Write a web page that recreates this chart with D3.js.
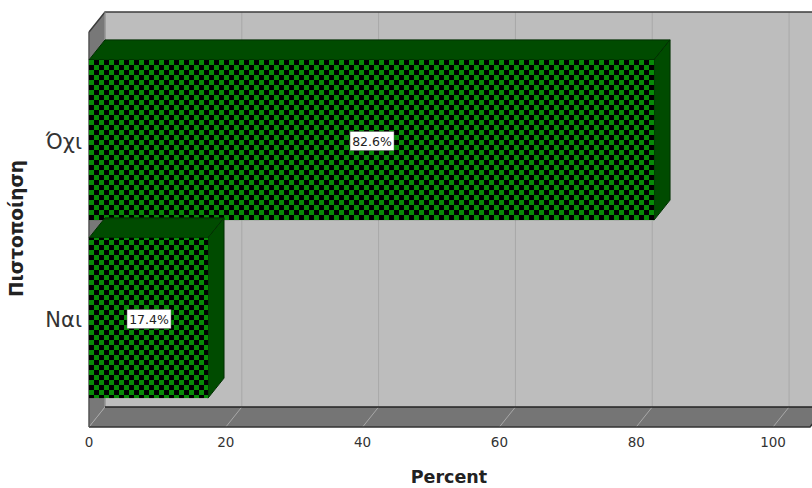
<!DOCTYPE html>
<html>
<head>
<meta charset="utf-8">
<script src="https://d3js.org/d3.v7.min.js"></script>
<style>
  html, body { margin: 0; padding: 0; background: #fff; overflow: hidden; }
  text { font-family: "DejaVu Sans", sans-serif; }
</style>
</head>
<body>
<script>
// chart values
const categories = ["Όχι", "Ναι"];
const percents = [82.6, 17.4];
const labels = ["82.6%", "17.4%"];
const xTicks = [0, 20, 40, 60, 80, 100];

const width = 812, height = 488;
const depthX = 16, depthY = -20; // offset of the fake 3d depth

const x = d3.scaleLinear().domain([0, 105.4]).range([89, 810]);
const y = d3.scaleBand().domain(categories).range([51, 407])
    .paddingInner(0.1).paddingOuter(0.05);

const plotTop = 32, plotBottom = 427;

const svg = d3.select("body").append("svg")
    .attr("width", width)
    .attr("height", height);

// checker pattern for the bar front
const pattern = svg.append("defs").append("pattern")
    .attr("id", "checks")
    .attr("patternUnits", "userSpaceOnUse")
    .attr("x", 89).attr("y", 60)
    .attr("width", 10).attr("height", 10);
pattern.append("rect").attr("width", 10).attr("height", 10).attr("fill", "#000");
pattern.append("rect").attr("x", 0).attr("y", 0).attr("width", 5).attr("height", 5).attr("fill", "#078c07");
pattern.append("rect").attr("x", 5).attr("y", 5).attr("width", 5).attr("height", 5).attr("fill", "#078c07");

function poly(pts) {
    return "M" + pts.map(p => p.join(",")).join("L") + "Z";
}

const x0 = x(0), x1 = x.range()[1];

// back wall
svg.append("path")
    .attr("d", poly([[x0 + depthX, plotTop + depthY], [x1 + depthX, plotTop + depthY],
                     [x1 + depthX, plotBottom + depthY], [x0 + depthX, plotBottom + depthY]]))
    .attr("fill", "#bdbdbd");

// left wall
svg.append("path")
    .attr("d", poly([[x0, plotTop], [x0 + depthX, plotTop + depthY],
                     [x0 + depthX, plotBottom + depthY], [x0, plotBottom]]))
    .attr("fill", "#787878");

// floor
svg.append("path")
    .attr("d", poly([[x0, plotBottom], [x1, plotBottom],
                     [x1 + depthX, plotBottom + depthY], [x0 + depthX, plotBottom + depthY]]))
    .attr("fill", "#757575");

// grid on wall and floor
svg.selectAll(".grid")
    .data(xTicks)
    .join("path")
    .attr("class", "grid")
    .attr("d", d => `M${x(d)},${plotBottom}L${x(d) + depthX},${plotBottom + depthY}L${x(d) + depthX},${plotTop + depthY}`)
    .attr("fill", "none")
    .attr("stroke", "#a8a8a8")
    .attr("stroke-width", 1);

// wall edges
svg.append("path")
    .attr("d", `M${x0},${plotTop}L${x0 + depthX},${plotTop + depthY}L${x1 + depthX},${plotTop + depthY}`)
    .attr("fill", "none").attr("stroke", "#3c3c3c").attr("stroke-width", 1.5);
svg.append("path")
    .attr("d", `M${x0 + depthX},${plotTop + depthY}V${plotBottom + depthY}`)
    .attr("fill", "none").attr("stroke", "#8a8a8a").attr("stroke-width", 1);
svg.append("path")
    .attr("d", `M${x0 + depthX},${plotBottom + depthY}H${x1 + depthX}`)
    .attr("fill", "none").attr("stroke", "#222").attr("stroke-width", 1.5);
svg.append("path")
    .attr("d", `M${x0},${plotBottom}L${x1},${plotBottom}L${x1 + depthX},${plotBottom + depthY}`)
    .attr("fill", "none").attr("stroke", "#333").attr("stroke-width", 1.5);
svg.append("path")
    .attr("d", `M${x0},${plotTop}V${plotBottom}`)
    .attr("fill", "none").attr("stroke", "#555").attr("stroke-width", 1.5);

// bars, drawn from the back (top) to the front
const bars = svg.selectAll(".bar")
    .data(categories.map((c, i) => ({ cat: c, value: percents[i], label: labels[i] })))
    .join("g")
    .attr("class", "bar");

bars.append("path") // top face
    .attr("d", d => poly([[x0, y(d.cat)], [x0 + depthX, y(d.cat) + depthY],
                          [x(d.value) + depthX, y(d.cat) + depthY], [x(d.value), y(d.cat)]]))
    .attr("fill", "#004b00")
    .attr("stroke", "#002f00")
    .attr("stroke-width", 1);

bars.append("path") // side face
    .attr("d", d => poly([[x(d.value), y(d.cat)], [x(d.value) + depthX, y(d.cat) + depthY],
                          [x(d.value) + depthX, y(d.cat) + y.bandwidth() + depthY],
                          [x(d.value), y(d.cat) + y.bandwidth()]]))
    .attr("fill", "#004b00")
    .attr("stroke", "#002f00")
    .attr("stroke-width", 1);

bars.append("rect") // front face
    .attr("x", x0)
    .attr("y", d => y(d.cat))
    .attr("width", d => x(d.value) - x0)
    .attr("height", y.bandwidth())
    .attr("fill", "url(#checks)");

// value labels
const valueLabels = bars.append("g")
    .attr("transform", d => `translate(${(x0 + x(d.value)) / 2 + 0.5},${y(d.cat) + y.bandwidth() / 2 + 1})`);
valueLabels.append("rect")
    .attr("x", -22).attr("y", -9.5)
    .attr("width", 44).attr("height", 19)
    .attr("fill", "#fff")
    .attr("stroke", "#555")
    .attr("stroke-width", 0.5);
valueLabels.append("text")
    .attr("text-anchor", "middle")
    .attr("dy", "0.36em")
    .attr("font-size", 12.5)
    .attr("fill", "#222")
    .text(d => d.label);

// x axis labels
svg.selectAll(".xlab")
    .data(xTicks)
    .join("text")
    .attr("class", "xlab")
    .attr("x", d => x(d))
    .attr("y", 447)
    .attr("text-anchor", "middle")
    .attr("font-size", 13.5)
    .attr("fill", "#333")
    .text(d => d);

// category labels
svg.selectAll(".ylab")
    .data(categories)
    .join("text")
    .attr("class", "ylab")
    .attr("x", 82)
    .attr("y", d => y(d) + y.bandwidth() / 2 + 1.5)
    .attr("dy", "0.36em")
    .attr("text-anchor", "end")
    .attr("font-size", 21)
    .attr("fill", "#333")
    .text(d => d);

// axis titles
svg.append("text")
    .attr("x", 449)
    .attr("y", 483)
    .attr("text-anchor", "middle")
    .attr("font-size", 17.5)
    .attr("font-weight", "bold")
    .attr("fill", "#222")
    .text("Percent");

svg.append("text")
    .attr("transform", "translate(23,228.5) rotate(-90)")
    .attr("text-anchor", "middle")
    .attr("font-size", 18.5)
    .attr("font-weight", "bold")
    .attr("fill", "#222")
    .text("Πιστοποίηση");
</script>
</body>
</html>
